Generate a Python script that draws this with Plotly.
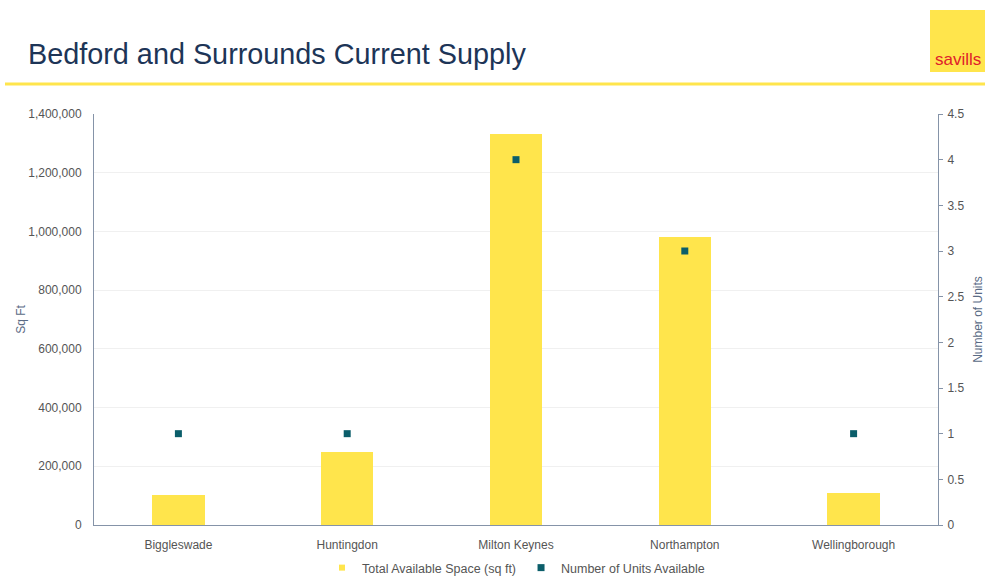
import plotly.graph_objects as go

categories = ["Biggleswade", "Huntingdon", "Milton Keynes", "Northampton", "Wellingborough"]
space_sqft = [102000, 250000, 1333000, 982000, 108000]
units = [1, 1, 4, 3, 1]

W, H = 985, 584
L, R, T, B = 94, 938, 114, 525

def px(x):
    return (x - L) / (R - L)

def py(y):
    return (B - y) / (B - T)

YELLOW = "#FFE54C"
TEAL = "#0B5E6A"
FONT = "Liberation Sans, Arial, sans-serif"

fig = go.Figure()
fig.add_trace(go.Bar(
    x=categories, y=space_sqft, name="Total Available Space (sq ft)",
    marker=dict(color=YELLOW, line=dict(width=0)), width=0.31, yaxis="y",
    showlegend=False, legendgroup="space",
))
fig.add_trace(go.Scatter(
    x=[None], y=[None], name="Total Available Space (sq ft)", mode="markers",
    marker=dict(symbol="square", size=6, color=YELLOW), legendgroup="space",
))
fig.add_trace(go.Scatter(
    x=categories, y=units, name="Number of Units Available", mode="markers",
    marker=dict(symbol="square", size=7, color=TEAL), yaxis="y2",
))

axis_col = "#8593A8"
tick_font = dict(family=FONT, size=12, color="#555555")

fig.update_layout(
    width=W, height=H,
    margin=dict(l=L, r=W - R, t=T, b=H - B, autoexpand=False),
    paper_bgcolor="white", plot_bgcolor="white",
    font=dict(family=FONT),
    title=dict(
        text="Bedford and Surrounds Current Supply",
        x=28 / W, xanchor="left", y=1 - 54 / H, yanchor="middle",
        font=dict(size=28.8, color="#1D3557", family=FONT),
    ),
    xaxis=dict(
        showline=True, linecolor=axis_col, linewidth=1, showgrid=False,
        tickfont=tick_font, ticks="", zeroline=False, ticklabelstandoff=9,
    ),
    yaxis=dict(
        range=[0, 1400000], dtick=200000, tickformat=",",
        showline=True, linecolor=axis_col, linewidth=1,
        showgrid=True, gridcolor="#F0F0F0", gridwidth=1, zeroline=False,
        tickfont=tick_font, ticks="", ticklabelstandoff=9,
        title=dict(text="Sq Ft", font=dict(size=12, color="#5A6B85"), standoff=0),
    ),
    yaxis2=dict(
        range=[0, 4.5], dtick=0.5, overlaying="y", side="right",
        showline=True, linecolor=axis_col, linewidth=1,
        showgrid=False, zeroline=False,
        ticks="outside", ticklen=4, tickcolor=axis_col,
        tickfont=tick_font, ticklabelstandoff=2,
        title=dict(text="Number of Units", font=dict(size=12, color="#5A6B85"), standoff=14),
    ),
    legend=dict(
        orientation="h", x=0.5, xanchor="center",
        yref="container", y=1 - 568 / H, yanchor="middle",
        font=dict(size=12.5, color="#555555"), itemwidth=30,
        tracegroupgap=0,
    ),
    bargap=0.0,
    shapes=[
        dict(type="line", xref="paper", yref="paper",
             x0=px(5), x1=px(985), y0=py(84), y1=py(84),
             line=dict(color=YELLOW, width=3)),
        dict(type="rect", xref="paper", yref="paper",
             x0=px(930), x1=px(985), y0=py(72), y1=py(10),
             fillcolor=YELLOW, line=dict(width=0)),
    ],
    annotations=[
        dict(text="savills", xref="paper", yref="paper",
             x=px(958), y=py(59), xanchor="center", yanchor="middle",
             showarrow=False, font=dict(size=17, color="#E0202A", family=FONT)),
    ],
)

fig.write_html("out.html")
